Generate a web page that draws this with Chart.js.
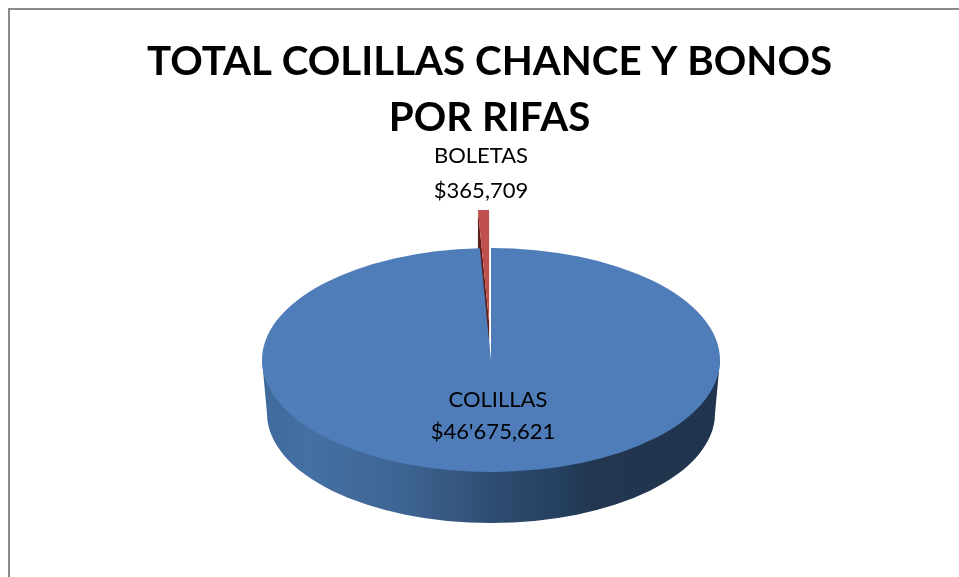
<!DOCTYPE html>
<html>
<head>
<meta charset="utf-8">
<style>
html,body{margin:0;padding:0;background:#fff;overflow:hidden;width:959px;height:577px}
canvas{position:absolute;left:0;top:0}
</style>
<script src="https://cdn.jsdelivr.net/npm/chart.js@4"></script>
</head>
<body>
<canvas id="c" width="979" height="600"></canvas>
<script>
const titleLines = ["TOTAL COLILLAS CHANCE Y BONOS", "POR RIFAS"];
const categories = ["COLILLAS", "BOLETAS"];
const values = [46675621, 365709];
const valueLabels = ["$46'675,621", "$365,709"];
const sliceColors = ["#4f7dba", "#c0504d"];

const FONT = "Lato, Carlito, Calibri, sans-serif";
const TILT = 112 / 229;       // vertical squash of the top face
const SHIFT_X = 1.5;
const EXPLODE = 78;           // distance the small slice is pulled out, in unsquashed px
const DEPTH = 51;             // wall height on screen
const BOTTOM_SCALE = 224 / 229; // perspective shrink of the base

const pie3d = {
  id: 'pie3d',
  beforeDraw(chart) {
    const c = chart.ctx;
    c.save();
    c.fillStyle = '#8a8a8a';
    c.fillRect(8, 8, chart.width, 2);
    c.fillRect(8, 8, 2, chart.height);
    c.restore();
  },
  beforeDatasetsDraw(chart) {
    const c = chart.ctx;
    const arcs = chart.getDatasetMeta(0).data;
    const big = arcs[0], small = arcs[1];
    const cx = big.x + SHIFT_X, cy = big.y, R = big.outerRadius, ry = R * TILT;
    const squash = () => { c.translate(SHIFT_X, 0); c.translate(big.x, big.y); c.scale(1, TILT); c.translate(-big.x, -big.y); };

    // small slice: side face then top face, pulled out along its mid angle
    const mid = (small.startAngle + small.endAngle) / 2;
    c.save();
    squash();
    c.translate(Math.cos(mid) * EXPLODE, Math.sin(mid) * EXPLODE);
    const d = DEPTH / TILT;
    const ex = big.x + Math.cos(small.startAngle) * R, ey = big.y + Math.sin(small.startAngle) * R;
    c.fillStyle = '#5e1f1d';
    c.beginPath();
    c.moveTo(big.x, big.y); c.lineTo(ex, ey); c.lineTo(ex, ey + d); c.lineTo(big.x, big.y + d);
    c.closePath(); c.fill();
    small.draw(c);
    c.restore();

    // wall of the large slice
    const grad = c.createLinearGradient(cx - R, 0, cx + R, 0);
    grad.addColorStop(0, '#3f6a9c');
    grad.addColorStop(0.1, '#4470a3');
    grad.addColorStop(0.3, '#3e6593');
    grad.addColorStop(0.5, '#2f4d72');
    grad.addColorStop(0.65, '#25405f');
    grad.addColorStop(0.72, '#22364f');
    grad.addColorStop(1, '#21344e');
    const rxB = R * BOTTOM_SCALE, ryB = ry * BOTTOM_SCALE, cyB = cy + (R * TILT + DEPTH - ryB);
    c.save();
    c.fillStyle = grad;
    c.beginPath();
    c.ellipse(cx, cyB, rxB, ryB, 0, 0, Math.PI);
    c.lineTo(cx - R, cy);
    c.lineTo(cx + R, cy);
    c.closePath();
    c.fill();
    c.restore();

    // top face of the large slice
    c.save();
    squash();
    big.draw(c);
    c.restore();
    return false;
  },
  afterDraw(chart) {
    const c = chart.ctx;
    const arcs = chart.getDatasetMeta(0).data;
    const big = arcs[0];
    const place = [[big.x + 8.5, big.y + 40, big.x + 3.5, big.y + 72], [big.x - 8.5, big.y - 204, big.x - 8.5, big.y - 169]];
    c.save();
    c.fillStyle = '#000';
    c.font = '22px ' + FONT;
    c.textAlign = 'center';
    c.textBaseline = 'middle';
    categories.forEach((name, i) => {
      const p = place[i];
      c.fillText(name, p[0], p[1]);
      c.fillText(valueLabels[i], p[2], p[3]);
    });
    c.restore();
  }
};

new Chart(document.getElementById('c'), {
  type: 'pie',
  data: {
    labels: categories,
    datasets: [{ data: values, backgroundColor: sliceColors, borderWidth: 0 }]
  },
  plugins: [pie3d],
  options: {
    responsive: false,
    animation: false,
    radius: 229,
    layout: { padding: { bottom: 26 } },
    plugins: {
      legend: { display: false },
      tooltip: { enabled: false },
      title: {
        display: true,
        text: titleLines,
        color: '#000',
        font: { family: FONT, size: 40.3, weight: 'bold', lineHeight: 1.39 },
        padding: { top: 34, bottom: 0 }
      }
    }
  }
});
</script>
</body>
</html>
